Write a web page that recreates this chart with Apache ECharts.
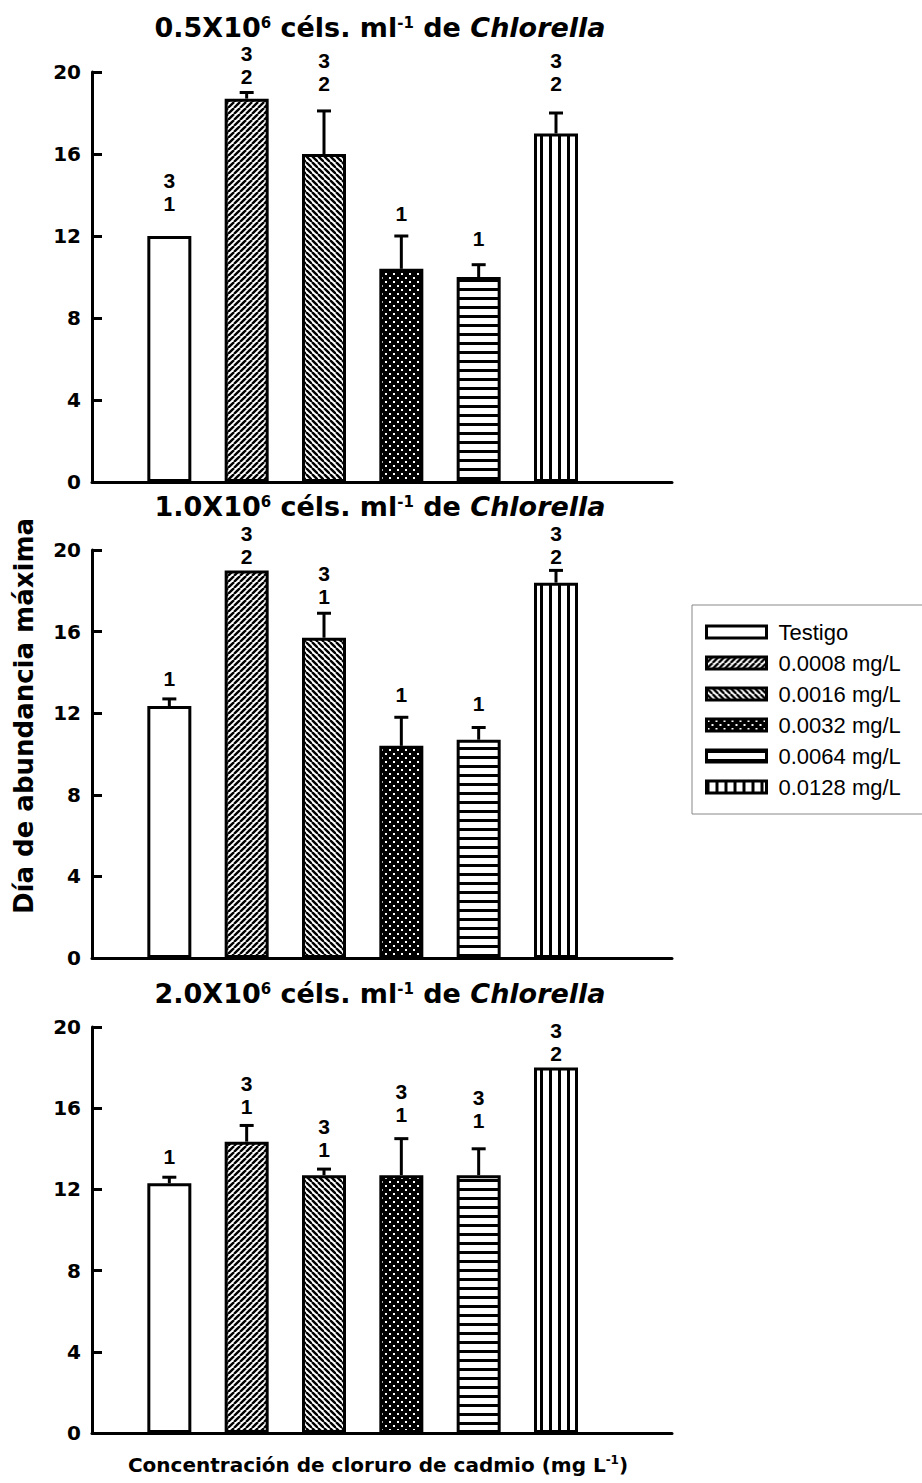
<!DOCTYPE html>
<html><head><meta charset="utf-8">
<script src="https://cdn.jsdelivr.net/npm/echarts@6/dist/echarts.min.js"></script>
<style>html,body{margin:0;padding:0;background:#fff}#c{width:922px;height:1483px}</style>
</head><body><div id="c"></div>
<script>
// ---------- data ----------
const categories = ['Testigo', '0.0008 mg/L', '0.0016 mg/L', '0.0032 mg/L', '0.0064 mg/L', '0.0128 mg/L'];
const densities = ['0.5', '1.0', '2.0'];
const yTicks = [0, 4, 8, 12, 16, 20];

const means05 = [12.0, 18.7, 16.0, 10.4, 10.0, 17.0];
const errors05 = [0, 0.3, 2.1, 1.6, 0.6, 1.0];
const letters05 = ['3\n1', '3\n2', '3\n2', '1', '1', '3\n2'];
const letterPos05 = [13.6, 19.8, 19.45, 13.1, 11.9, 19.45];

const means10 = [12.35, 19.0, 15.7, 10.4, 10.7, 18.4];
const errors10 = [0.35, 0, 1.2, 1.4, 0.6, 0.6];
const letters10 = ['1', '3\n2', '3\n1', '1', '1', '3\n2'];
const letterPos10 = [13.7, 19.7, 17.7, 12.9, 12.5, 19.7];

const means20 = [12.3, 14.35, 12.7, 12.7, 12.7, 18.0];
const errors20 = [0.3, 0.8, 0.3, 1.8, 1.3, 0];
const letters20 = ['1', '3\n1', '3\n1', '3\n1', '3\n1', '3\n2'];
const letterPos20 = [13.6, 16.1, 13.95, 15.7, 15.4, 18.7];

const xAxisTitle = 'Concentración de cloruro de cadmio (mg L';
const yAxisTitle = 'Día de abundancia máxima';

// ---------- patterns ----------
function tile(w, h, draw) {
  const c = document.createElement('canvas');
  c.width = w; c.height = h;
  const g = c.getContext('2d');
  draw(g, w, h);
  return { image: c, repeat: 'repeat', imageWidth: w, imageHeight: h };
}
const patterns = [
  '#ffffff',
  tile(6, 6, (g, w, h) => { g.fillStyle = '#fff'; g.fillRect(0, 0, w, h); g.strokeStyle = '#000'; g.lineWidth = 2.4;
    for (let x0 = -w; x0 <= w; x0 += w) { g.beginPath(); g.moveTo(x0, h); g.lineTo(x0 + w, 0); g.stroke(); } }),
  tile(6, 6, (g, w, h) => { g.fillStyle = '#fff'; g.fillRect(0, 0, w, h); g.strokeStyle = '#000'; g.lineWidth = 2.4;
    for (let x0 = -w; x0 <= w; x0 += w) { g.beginPath(); g.moveTo(x0, 0); g.lineTo(x0 + w, h); g.stroke(); } }),
  tile(8, 8, (g, w, h) => { g.fillStyle = '#000'; g.fillRect(0, 0, w, h); g.fillStyle = '#fff';
    g.fillRect(1, 1, 2, 2); g.fillRect(5, 5, 2, 2); }),
  tile(9, 9, (g, w, h) => { g.fillStyle = '#fff'; g.fillRect(0, 0, w, h); g.fillStyle = '#000'; g.fillRect(0, 0, w, 3); }),
  tile(9, 9, (g, w, h) => { g.fillStyle = '#fff'; g.fillRect(0, 0, w, h); g.fillStyle = '#000'; g.fillRect(0, 0, 3, h); })
];

// ---------- layout ----------
const panels = [
  { means: means05, errors: errors05, letters: letters05, letterPos: letterPos05, top: 72, height: 410, titleY: 27 },
  { means: means10, errors: errors10, letters: letters10, letterPos: letterPos10, top: 550, height: 408, titleY: 506 },
  { means: means20, errors: errors20, letters: letters20, letterPos: letterPos20, top: 1027, height: 406, titleY: 993 }
];
const gridLeft = 92, gridWidth = 580;
const boldFont = 'DejaVu Sans';

const grids = [], xAxes = [], yAxes = [], series = [], graphics = [];
panels.forEach((p, pi) => {
  grids.push({ left: gridLeft, top: p.top, width: gridWidth, height: p.height });
  xAxes.push({
    type: 'value', gridIndex: pi, min: 0, max: 7.5,
    axisLine: { show: true, onZero: false, lineStyle: { color: '#000', width: 3 } },
    axisTick: { show: false }, axisLabel: { show: false }, splitLine: { show: false }
  });
  yAxes.push({
    type: 'value', gridIndex: pi, min: yTicks[0], max: yTicks[yTicks.length - 1], interval: yTicks[1] - yTicks[0],
    axisLine: { show: true, lineStyle: { color: '#000', width: 3 } },
    axisTick: { show: true, inside: true, length: 10, lineStyle: { color: '#000', width: 3 } },
    axisLabel: { color: '#000', fontFamily: boldFont, fontWeight: 'bold', fontSize: 20, margin: 11 },
    splitLine: { show: false }
  });
  categories.forEach((name, k) => {
    series.push({
      type: 'bar', name: name, xAxisIndex: pi, yAxisIndex: pi,
      data: [[k + 1, p.means[k]]], barWidth: 44, barGap: '-100%',
      itemStyle: { color: patterns[k], borderColor: '#000', borderWidth: 3 },
      emphasis: { disabled: true }, z: 2
    });
  });
  // error bars
  series.push({
    type: 'custom', xAxisIndex: pi, yAxisIndex: pi, z: 3, silent: true,
    data: p.means.map((m, k) => [k + 1, m, p.errors[k]]),
    renderItem: (params, api) => {
      const e = api.value(2);
      if (!e) return null;
      const x = api.value(0), m = api.value(1);
      const b = api.coord([x, m]), t = api.coord([x, m + e]);
      return { type: 'group', children: [
        { type: 'line', shape: { x1: b[0], y1: b[1], x2: t[0], y2: t[1] }, style: { stroke: '#000', lineWidth: 3 } },
        { type: 'line', shape: { x1: t[0] - 7, y1: t[1], x2: t[0] + 7, y2: t[1] }, style: { stroke: '#000', lineWidth: 3 } }
      ] };
    }
  });
  graphics.push({
    type: 'text', x: 380, y: p.titleY, style: {
      text: '{b|' + densities[pi] + 'X10}{s|6}{b| céls. ml}{s|-1}{b| de }{i|Chlorella}',
      align: 'center', verticalAlign: 'middle',
      rich: {
        b: { fontFamily: boldFont, fontWeight: 'bold', fontSize: 27, fill: '#000', lineHeight: 24 },
        s: { fontFamily: boldFont, fontWeight: 'bold', fontSize: 15, fill: '#000', verticalAlign: 'top', lineHeight: 9 },
        i: { fontFamily: boldFont, fontWeight: 'bold', fontStyle: 'italic', fontSize: 27, fill: '#000', lineHeight: 24 }
      }
    }
  });
});

graphics.push({
  type: 'text', x: 378, y: 1465, style: {
    text: '{b|' + xAxisTitle + '}{s|-1}{b|)}', align: 'center', verticalAlign: 'middle',
    rich: {
      b: { fontFamily: boldFont, fontWeight: 'bold', fontSize: 20, fill: '#000', lineHeight: 22 },
      s: { fontFamily: boldFont, fontWeight: 'bold', fontSize: 12, fill: '#000', verticalAlign: 'top', lineHeight: 9 }
    }
  }
});
graphics.push({
  type: 'text', x: 24, y: 716, rotation: Math.PI / 2, style: {
    text: yAxisTitle, align: 'center', verticalAlign: 'middle', fill: '#000',
    fontFamily: boldFont, fontWeight: 'bold', fontSize: 26
  }
});

const chart = echarts.init(document.getElementById('c'), null, { renderer: 'svg' });
chart.setOption({
  animation: false,
  backgroundColor: '#fff',
  grid: grids, xAxis: xAxes, yAxis: yAxes, series: series, graphic: graphics,
  legend: {
    data: categories, orient: 'vertical', left: 692, top: 605,
    padding: [16, 80, 16, 13], itemGap: 9, itemWidth: 60, itemHeight: 12, icon: 'rect',
    borderColor: '#888', borderWidth: 1, selectedMode: false,
    itemStyle: { borderColor: '#000', borderWidth: 3 },
    textStyle: { color: '#000', fontFamily: 'Liberation Sans', fontSize: 22, lineHeight: 22, padding: [0, 0, 0, 7] }
  }
});

// significance letters, placed through each panel's own axes (bottom line centred on the value)
const letterGraphics = [];
panels.forEach((p, pi) => {
  p.letterPos.forEach((v, k) => {
    const pt = chart.convertToPixel({ gridIndex: pi }, [k + 1, v]);
    letterGraphics.push({
      type: 'text', x: pt[0], y: pt[1] + 11.5, z: 10, silent: true,
      style: {
        text: p.letters[k], fill: '#000', fontFamily: 'Liberation Sans', fontWeight: 'bold', fontSize: 21,
        lineHeight: 23, align: 'center', verticalAlign: 'bottom'
      }
    });
  });
});
chart.setOption({ graphic: graphics.concat(letterGraphics) });
</script></body></html>
